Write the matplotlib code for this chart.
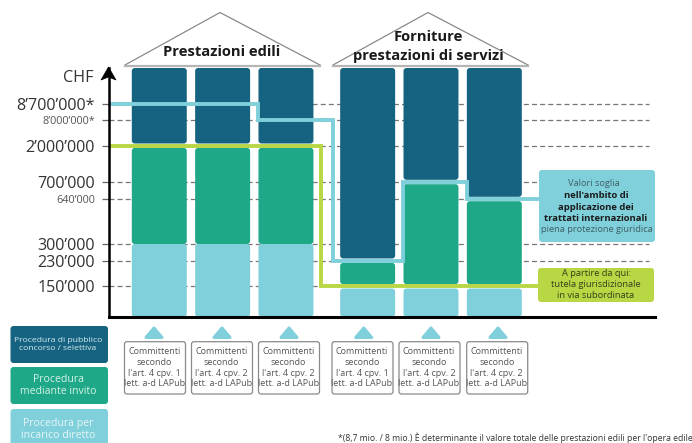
"""Swiss procurement thresholds chart (LAPub), building vs supplies/services."""
import matplotlib
matplotlib.use("Agg")
import matplotlib.pyplot as plt
import numpy as np
from matplotlib.patches import FancyBboxPatch, Polygon
from matplotlib.transforms import IdentityTransform

plt.rcParams["font.family"] = ["Open Sans", "DejaVu Sans"]

# ---- data ----
TOP = 12_000_000
THRESHOLDS = [8_700_000, 8_000_000, 2_000_000, 700_000, 640_000, 300_000, 230_000, 150_000]
TICK_LABELS = ["8’700’000*", "8’000’000*", "2’000’000", "700’000", "640’000", "300’000", "230’000", "150’000"]
SMALL_TICKS = ["8’000’000*", "640’000"]

DIRECT_LIMIT = [300_000, 300_000, 300_000, 150_000, 150_000, 150_000]
INVITE_LIMIT = [2_000_000, 2_000_000, 2_000_000, 230_000, 700_000, 640_000]

TREATY_VALUES = [8_700_000, 8_000_000, 230_000, 700_000, 640_000]
SUBORDINATE_VALUES = [2_000_000, 150_000]

CPV = ["1", "2", "2", "1", "2", "2"]
LEGEND_LABELS = ["Procedura di pubblico\nconcorso / selettiva", "Procedura\nmediante invito",
                 "Procedura per\nincarico diretto"]

# ---- layout ----
W, H = 692, 443
DARK, GREEN, LIGHT, LIME = "#156380", "#1EA887", "#80D0DB", "#B9D644"
BAR_X = [0, 1, 2, 3.29, 4.29, 5.29]
BAR_W = 0.868
X_LEFT, X_RIGHT = -0.794, 7.827
TREATY_X = [X_LEFT, 1.56, 2.735, 3.848, 4.854, 6.01]
SUBORDINATE_X = [X_LEFT, 2.553, 6.0]

# the value axis is not linear: each threshold sits at a hand-placed height
SCALE_VALUES = np.array([0, 150_000, 230_000, 300_000, 640_000, 700_000, 2_000_000, 8_000_000, 8_700_000, TOP])
SCALE_HEIGHT = 316.7 - np.array([316.7, 286.3, 260.7, 244, 199, 182, 145.7, 120, 104, 68])


def forward(v):
    return np.interp(v, SCALE_VALUES, SCALE_HEIGHT)


def inverse(h):
    return np.interp(h, SCALE_HEIGHT, SCALE_VALUES)


def round_rect(target, x0, y0, x1, y1, r=3, **kw):
    p = FancyBboxPatch((x0, y0), x1 - x0, y1 - y0, boxstyle=f"round,pad=0,rounding_size={r}", **kw)
    target.add_patch(p)
    return p


def px_text(x, y, s, size, color="#333333", weight="normal", ha="center"):
    ov.text(x, y, s, fontsize=size, color=color, fontweight=weight, ha=ha, va="center", linespacing=1.05)


fig = plt.figure(figsize=(W / 100, H / 100), dpi=100)

ax = fig.add_axes([109 / W, 1 - 316.7 / H, (655 - 109) / W, (316.7 - 68) / H])
ax.patch.set_alpha(0)
ax.set_yscale("function", functions=(forward, inverse))
ax.set_xlim(X_LEFT, X_RIGHT)
ax.set_ylim(0, TOP)
ax.set_xticks([])
ax.set_yticks(THRESHOLDS)
ax.set_yticklabels(TICK_LABELS)
ax.tick_params(axis="y", length=5, width=0.9, color="#666666", pad=5)
for lab in ax.get_yticklabels():
    small = lab.get_text() in SMALL_TICKS
    lab.set_fontsize(7.8 if small else 11.6)
    lab.set_color("#555555" if small else "#333333")
for s in ["top", "right"]:
    ax.spines[s].set_visible(False)
ax.spines["left"].set_linewidth(1.8)
ax.spines["left"].set_zorder(6)
ax.spines["bottom"].set_linewidth(2.2)
ax.spines["bottom"].set_zorder(6)

# dashed guide lines, the two middle ones stop at the callout
for v in THRESHOLDS:
    right = 6.0 if v in (700_000, 640_000, 150_000) else 7.74
    ax.plot([X_LEFT, right], [v, v], color="#777777", lw=0.9, dashes=(4, 2.5), zorder=1)

# rounded segments are placed through the axes scale, then drawn in display pixels
for x, direct, invite in zip(BAR_X, DIRECT_LIMIT, INVITE_LIMIT):
    x0 = ax.transData.transform((x - BAR_W / 2, 0))[0]
    x1 = ax.transData.transform((x + BAR_W / 2, 0))[0]
    y_direct = ax.transData.transform((x, direct))[1]
    y_invite = ax.transData.transform((x, invite))[1]
    y_top = ax.transData.transform((x, TOP))[1]
    y_base = ax.transData.transform((x, 0))[1]
    gap = 0 if direct == 300_000 else 2.2
    for lo, hi, color in [(y_base, y_direct - gap, LIGHT), (y_direct + gap, y_invite - 2.2, GREEN),
                          (y_invite + 2.2, y_top, DARK)]:
        round_rect(ax, x0, lo, x1, hi, facecolor=color, edgecolor="none",
                   transform=IdentityTransform(), zorder=2, clip_on=False)

ax.step(TREATY_X, TREATY_VALUES + TREATY_VALUES[-1:], where="post", color=LIGHT, lw=2.8,
        solid_joinstyle="miter", solid_capstyle="butt", zorder=4)
ax.step(SUBORDINATE_X, SUBORDINATE_VALUES + SUBORDINATE_VALUES[-1:], where="post", color=LIME, lw=2.8,
        solid_joinstyle="miter", solid_capstyle="butt", zorder=4)

# ---- annotations in pixel coordinates ----
ov = fig.add_axes([0, 0, 1, 1])
ov.set_xlim(0, W)
ov.set_ylim(H, 0)
ov.axis("off")
ov.patch.set_alpha(0)

# axis arrow head
ov.add_patch(Polygon([(108.5, 67), (116, 80), (108.5, 77), (101, 80)], closed=True, fc="black", ec="black", lw=0.5))
px_text(94, 78, "CHF", 11.6, ha="right")

# roofs
for x0, apex, x1 in [(125, 220, 320), (333, 428, 528)]:
    ov.plot([x0, apex, x1], [65, 12.5, 65], color="#8a8a8a", lw=0.9)
    ov.plot([x0, x1], [65.5, 65.5], color="#b5b5b5", lw=1.6)
px_text(222, 52, "Prestazioni edili", 10.6, color="#1a1a1a", weight="bold")
px_text(428, 37, "Forniture", 10.6, color="#1a1a1a", weight="bold")
px_text(428, 56, "prestazioni di servizi", 10.6, color="#1a1a1a", weight="bold")

# callouts
round_rect(ov, 539, 170, 655, 242, facecolor=LIGHT, edgecolor="none", zorder=3)
round_rect(ov, 538, 268, 654, 302, facecolor=LIME, edgecolor="none", zorder=3)
px_text(594, 184, "Valori soglia", 6.7, color="#3f5f66")
px_text(596, 195, "nell'ambito di", 6.8, color="#1a1a1a", weight="bold")
px_text(596, 207, "applicazione dei", 6.8, color="#1a1a1a", weight="bold")
px_text(596, 218, "trattati internazionali", 6.8, color="#1a1a1a", weight="bold")
px_text(597, 229, "piena protezione giuridica", 6.7, color="#3f5f66")
px_text(596, 273, "A partire da qui:", 6.7, color="#33401a")
px_text(596, 284.5, "tutela giurisdizionale", 6.7, color="#33401a")
px_text(596, 296, "in via subordinata", 6.7, color="#33401a")

# legend
for (y0, y1), color, label, size, tcolor in zip([(326, 363), (367, 404), (409, 450)], [DARK, GREEN, LIGHT],
                                                LEGEND_LABELS, [6.1, 7.6, 7.6], ["#d8ecf1", "#d5f2e9", "#e6f6f8"]):
    round_rect(ov, 10.5, y0, 108, y1, facecolor=color, edgecolor="none")
    px_text(58, (y0 + min(y1, 443) + (0 if y1 < 443 else 7)) / 2, label, size, color=tcolor)

# committenti boxes with their small markers
BOX_LEFT = [124.5, 191.5, 258.5, 332, 399, 466.7]
MARK_X = [154, 222, 289, 363.7, 431, 498]
for left, mx, cpv in zip(BOX_LEFT, MARK_X, CPV):
    ov.add_patch(Polygon([(mx, 328), (mx + 8, 337.5), (mx - 8, 337.5)], closed=True, fc=LIGHT, ec=LIGHT, lw=2.2,
                         joinstyle="round"))
    round_rect(ov, left, 341.7, left + 61, 394, r=2.5, facecolor="white", edgecolor="#8a8a8a", linewidth=0.9)
    cx = left + 30
    px_text(cx, 352, "Committenti", 6.5, color="#555555")
    px_text(cx, 362.5, "secondo", 6.5, color="#555555")
    px_text(cx, 373, f"l'art. 4 cpv. {cpv}", 6.5, color="#555555")
    px_text(cx, 384, "lett. a-d LAPub", 6.5, color="#555555")

px_text(338, 437.5, "*(8,7 mio. / 8 mio.) È determinante il valore totale delle prestazioni edili per l'opera edile", 6.2,
        color="#333333", ha="left")

fig.savefig("out.png", dpi=100)
